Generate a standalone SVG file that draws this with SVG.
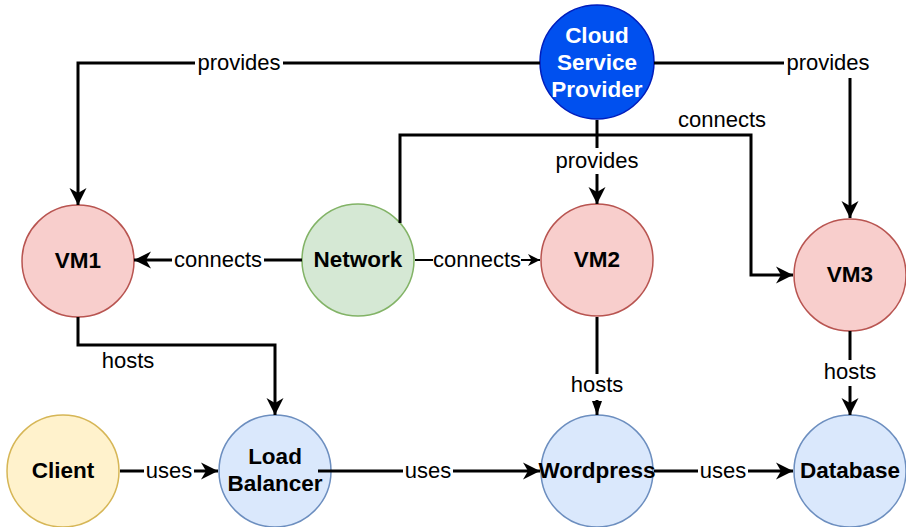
<svg xmlns="http://www.w3.org/2000/svg" width="906" height="527" viewBox="0 0 906 527">
<defs>
<marker id="arr" markerUnits="userSpaceOnUse" markerWidth="20" markerHeight="20" viewBox="-18 -10 20 20" refX="0" refY="0" orient="auto">
<path d="M0,0 L-17,-8.5 L-12,0 L-17,8.5 Z" fill="#000"/>
</marker>
<marker id="arrs" markerUnits="userSpaceOnUse" markerWidth="14" markerHeight="14" viewBox="-13 -7 14 14" refX="0" refY="0" orient="auto">
<path d="M0,0 L-12,-6 L-8.5,0 L-12,6 Z" fill="#000"/>
</marker>
<marker id="blk" markerUnits="userSpaceOnUse" markerWidth="16" markerHeight="12" viewBox="-15 -6 16 12" refX="0" refY="0" orient="auto">
<path d="M0,0 L-14,-5 L-14,5 Z" fill="#000"/>
</marker>
</defs>
<style>
.e{fill:none;stroke:#000;stroke-width:3}
.t{fill:none;stroke:#000;stroke-width:2}
.lb{font-family:"Liberation Sans",Arial,sans-serif;font-size:22px;fill:#000;text-anchor:middle}
.nt{font-family:"Liberation Sans",Arial,sans-serif;font-size:22.5px;font-weight:bold;fill:#000;text-anchor:middle}
.bg{fill:#fff}
.vm{fill:#f8cecc;stroke:#b85450;stroke-width:1.5}
.bl{fill:#dae8fc;stroke:#6c8ebf;stroke-width:1.5}
</style>
<rect width="906" height="527" fill="#fff"/>
<g id="csp">
<circle cx="597" cy="62" r="57" fill="#0050ef" stroke="#001dbc" stroke-width="1.5"/>
<text class="nt" x="597" y="43" style="fill:#fff">Cloud</text>
<text class="nt" x="597" y="70" style="fill:#fff">Service</text>
<text class="nt" x="597" y="97" style="fill:#fff">Provider</text>
</g>
<g id="vm1">
<circle class="vm" cx="78" cy="261" r="56"/>
<text class="nt" x="78" y="268">VM1</text>
</g>
<g id="network">
<circle cx="358" cy="260" r="56" fill="#d5e8d4" stroke="#82b366" stroke-width="1.5"/>
<text class="nt" x="358" y="267">Network</text>
</g>
<g id="vm2">
<circle class="vm" cx="597" cy="260" r="56"/>
<text class="nt" x="597" y="267">VM2</text>
</g>
<g id="vm3">
<circle class="vm" cx="850" cy="275" r="56"/>
<text class="nt" x="850" y="282">VM3</text>
</g>
<g id="client">
<circle cx="63" cy="471" r="56" fill="#fff2cc" stroke="#d6b656" stroke-width="1.5"/>
<text class="nt" x="63" y="478">Client</text>
</g>
<g id="loadbalancer">
<circle class="bl" cx="275" cy="471" r="56"/>
<text class="nt" x="275" y="464">Load</text>
<text class="nt" x="275" y="491">Balancer</text>
</g>
<g id="wordpress">
<circle class="bl" cx="597" cy="471" r="56"/>
<text class="nt" x="597" y="478">Wordpress</text>
</g>
<g id="database">
<circle class="bl" cx="850" cy="471" r="56"/>
<text class="nt" x="850" y="478">Database</text>
</g>
<g id="connectors">
<path class="e" d="M540,63 H78 V205" marker-end="url(#arr)"/>
<path class="e" d="M654,63 H850 V218" marker-end="url(#arr)"/>
<path class="e" d="M597,120 V204" marker-end="url(#arr)"/>
<path class="e" d="M302,260 H134" marker-end="url(#arr)"/>
<path class="t" d="M415,260 H540" marker-end="url(#arrs)"/>
<path class="e" d="M400,223 V135 H751 V275 H793" marker-end="url(#arr)"/>
<path class="e" d="M78,317 V345 H275 V415" marker-end="url(#arr)"/>
<path class="e" d="M597,317 V415" marker-end="url(#blk)"/>
<path class="e" d="M850,331 V415" marker-end="url(#arr)"/>
<path class="e" d="M120,471 H218" marker-end="url(#arr)"/>
<path class="e" d="M318,471 H540" marker-end="url(#arr)"/>
<path class="e" d="M654,471 H793" marker-end="url(#arr)"/>
<rect class="bg" x="195" y="50" width="88" height="26"/>
<text class="lb" x="239" y="70">provides</text>
<rect class="bg" x="784" y="50" width="89" height="28"/>
<text class="lb" x="828" y="70">provides</text>
<rect class="bg" x="552" y="148" width="90" height="26"/>
<text class="lb" x="597" y="168">provides</text>
<rect class="bg" x="172" y="248" width="92" height="24"/>
<text class="lb" x="218" y="267">connects</text>
<rect class="bg" x="433" y="248" width="88" height="24"/>
<text class="lb" x="477" y="267">connects</text>
<text class="lb" x="722" y="127">connects</text>
<text class="lb" x="128" y="368">hosts</text>
<rect class="bg" x="569" y="374" width="56" height="26"/>
<text class="lb" x="597" y="392">hosts</text>
<rect class="bg" x="822" y="360" width="56" height="26"/>
<text class="lb" x="850" y="379">hosts</text>
<rect class="bg" x="144" y="460" width="50" height="22"/>
<text class="lb" x="169" y="478">uses</text>
<rect class="bg" x="403" y="460" width="50" height="22"/>
<text class="lb" x="428" y="478">uses</text>
<rect class="bg" x="698" y="460" width="50" height="22"/>
<text class="lb" x="723" y="478">uses</text>
</g>
</svg>
